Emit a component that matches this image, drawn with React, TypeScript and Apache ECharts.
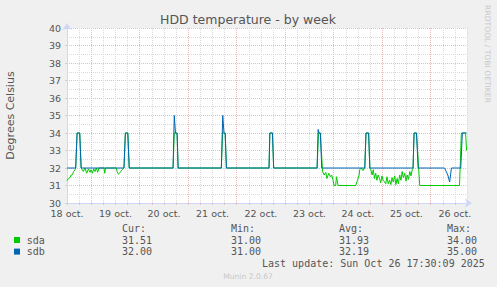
import React, { useEffect, useRef } from "react";
import * as echarts from "echarts";

// x values are hours since 18 oct 00:00
const X_MIN = 12;
const X_MAX = 210;
const dayLabels = ["18 oct.", "19 oct.", "20 oct.", "21 oct.", "22 oct.", "23 oct.", "24 oct.", "25 oct.", "26 oct."];

const sda: [number, number][] = [
  [12.0, 31.28], [12.7, 31.4], [13.5, 31.45], [14.0, 31.6], [14.7, 31.62], [15.3, 31.8], [16.0, 31.9], [16.3, 32], [17.0, 34], [18.3, 34], [19.0, 32],
  [20.1, 31.8], [20.9, 32], [21.75, 31.7], [22.6, 31.95], [23.4, 31.75], [23.9, 31.9], [24.6, 31.7], [25.2, 31.95], [25.9, 31.8], [26.5, 32], [27.2, 31.75], [27.8, 32],
  [30.3, 32], [30.7, 31.7], [31.1, 32],
  [36.4, 32], [36.8, 31.8], [37.4, 31.65], [38.0, 31.7], [38.6, 31.8], [39.2, 31.9], [40.2, 32], [40.9, 34], [42.1, 34], [42.8, 32],
  [64.5, 32], [65.1, 34], [66.5, 34], [67.0, 32],
  [88.4, 32], [89.0, 34], [90.3, 34], [90.9, 32],
  [112.0, 32], [112.4, 34], [113.7, 34], [114.3, 32],
  [135.8, 32], [136.5, 34], [137.4, 34], [138.5, 31.8], [139.3, 31.6], [140.1, 31.75], [140.7, 31.4], [141.55, 31.7], [142.4, 31.5], [143.0, 31.6], [143.7, 31.3], [144.2, 31.0], [145.0, 31.0], [145.4, 31.5], [146.2, 31.0],
  [154.9, 31.0], [155.8, 31.3], [156.6, 31.6], [156.9, 31.9], [157.7, 32], [158.5, 31.85], [159.0, 31.95], [159.4, 32], [160.0, 34], [161.3, 34], [161.9, 32],
  [162.4, 31.9], [163.0, 31.6], [163.6, 31.9], [164.2, 31.4], [164.8, 31.7], [165.4, 31.3], [166.0, 31.6], [166.7, 31.4], [167.3, 31.15], [167.9, 31.55], [168.5, 31.3], [169.2, 31.2],
  [169.8, 31.1], [170.4, 31.5], [171.0, 31.1], [171.7, 31.3], [172.3, 31.05], [172.9, 31.45], [173.5, 31.2], [174.2, 31.55], [174.8, 31.05], [175.4, 31.4], [176.0, 31.1], [176.7, 31.6],
  [177.3, 31.3], [177.9, 31.8], [178.5, 31.45], [179.2, 31.7], [179.8, 31.25], [180.4, 31.6], [181.0, 31.35], [181.7, 31.8], [182.3, 31.55], [182.9, 31.9],
  [183.3, 32], [183.8, 34], [185.0, 34], [186.6, 31], [206.3, 31], [207.2, 34], [209.3, 34], [209.8, 33],
];

const sdb: [number, number][] = [
  [12, 32], [16.3, 32], [17.0, 34], [18.3, 34], [19.0, 32],
  [40.2, 32], [40.9, 34], [42.1, 34], [42.8, 32],
  [64.5, 32], [65.1, 35], [65.7, 34], [66.5, 34], [67.0, 32],
  [88.4, 32], [89.1, 35], [89.7, 34], [90.3, 34], [90.9, 32],
  [112.0, 32], [112.4, 34], [113.7, 34], [114.3, 32],
  [135.8, 32], [136.3, 34.2], [136.8, 34.0], [137.4, 34], [138.1, 32],
  [159.4, 32], [160.0, 34], [161.3, 34], [161.9, 32],
  [183.3, 32], [183.8, 34], [185.0, 34], [185.8, 32],
  [198.9, 32], [200.5, 31.6], [201.4, 31.2], [202.3, 32],
  [206.9, 32], [207.7, 34], [209.8, 34],
];

const seriesNames = ["sda", "sdb"];
const seriesColors = ["#00cc00", "#0066b3"];
const curValues = ["31.51", "32.00"];
const minValues = ["31.00", "31.00"];
const avgValues = ["31.93", "32.19"];
const maxValues = ["34.00", "35.00"];
const statHeaders = ["Cur:", "Min:", "Avg:", "Max:"];
const lastUpdate = "Last update: Sun Oct 26 17:30:09 2025";

const GRID_GREY = "#dadada";
const GRID_RED = "#f0b8b8";
const AXIS_COLOR = "#cfd6f8";
const FONT_COLOR = "#555555";

function txt(text: string, x: number, y: number, font: string, fill: string, align = "left", rotation = 0) {
  return {
    type: "text",
    x,
    y,
    rotation,
    silent: true,
    style: { text, font, fill, align, verticalAlign: "middle", textAlign: align, textVerticalAlign: "middle" },
  };
}

export default function App() {
  const ref = useRef<HTMLDivElement>(null);
  useEffect(() => {
    if (!ref.current) return;
    const chart = echarts.init(ref.current, undefined, { renderer: "svg" });
    const mono = "10px 'DejaVu Sans Mono', monospace";
    const statX = [122, 231, 339, 447];
    const graphics: any[] = [
      txt("HDD temperature - by week", 248, 19, "12.5px 'DejaVu Sans'", FONT_COLOR, "center"),
      txt("Degrees Celsius", 10.5, 115.5, "11px 'DejaVu Sans'", FONT_COLOR, "center", Math.PI / 2),
      txt("RRDTOOL / TOBI OETIKER", 487.5, 54, "7.6px 'DejaVu Sans'", "#c8c8c8", "center", -Math.PI / 2),
      txt("Munin 2.0.67", 248, 276.4, "7.6px 'DejaVu Sans'", "#c8c8c8", "center"),
      txt(lastUpdate, 262, 263.2, mono, FONT_COLOR),
    ];
    statHeaders.forEach((h, i) => graphics.push(txt(h, statX[i], 228, mono, FONT_COLOR)));
    const rowsY = [240, 251.6];
    seriesNames.forEach((n, r) => {
      graphics.push({
        type: "rect",
        shape: { x: 14, y: rowsY[r] - 3, width: 6, height: 6 },
        style: { fill: seriesColors[r] },
        silent: true,
      });
      graphics.push(txt(n, 26.7, rowsY[r], mono, FONT_COLOR));
      [curValues, minValues, avgValues, maxValues].forEach((vals, i) =>
        graphics.push(txt(vals[r], statX[i], rowsY[r], mono, FONT_COLOR))
      );
    });

    chart.setOption({
      animation: false,
      backgroundColor: "#f0f0f0",
      grid: { left: 67, top: 28, width: 400, height: 175, show: true, backgroundColor: "#ffffff", borderWidth: 0 },
      xAxis: {
        type: "value",
        min: X_MIN,
        max: X_MAX,
        interval: 6,
        axisLine: {
          show: true,
          lineStyle: { color: AXIS_COLOR, width: 1 },
          symbol: ["none", "arrow"],
          symbolSize: [7, 7],
          symbolOffset: [0, 5],
        },
        axisTick: { show: true, length: 2, lineStyle: { color: "#e0c4c4" } },
        axisLabel: {
          margin: 5,
          color: FONT_COLOR,
          fontFamily: "DejaVu Sans",
          fontSize: 9.5,
          showMinLabel: true,
          showMaxLabel: true,
          formatter: (v: number) => {
            const k = (v - 12) / 24;
            return Number.isInteger(k) && dayLabels[k] ? dayLabels[k] : "";
          },
        },
        splitLine: {
          show: true,
          lineStyle: { color: [GRID_GREY, GRID_GREY, GRID_RED, GRID_GREY], type: [1, 1], width: 1 },
        },
      },
      yAxis: {
        type: "value",
        min: 30,
        max: 40,
        interval: 1,
        axisLine: {
          show: true,
          lineStyle: { color: AXIS_COLOR, width: 1 },
          symbol: ["none", "arrow"],
          symbolSize: [7, 7],
          symbolOffset: [0, 5],
        },
        axisTick: { show: true, length: 2, lineStyle: { color: "#d0d0d0" } },
        axisLabel: { margin: 6, color: FONT_COLOR, fontFamily: "DejaVu Sans", fontSize: 9.5 },
        splitLine: { show: true, lineStyle: { color: GRID_RED, type: [1, 1], width: 1 } },
        minorTick: { show: false, splitNumber: 2 },
        minorSplitLine: { show: true, lineStyle: { color: GRID_GREY, type: [1, 1], width: 1 } },
      },
      series: [
        {
          name: "sda",
          type: "line",
          data: sda,
          showSymbol: false,
          symbol: "none",
          lineStyle: { color: seriesColors[0], width: 1 },
          z: 3,
        },
        {
          name: "sdb",
          type: "line",
          data: sdb,
          showSymbol: false,
          symbol: "none",
          lineStyle: { color: seriesColors[1], width: 1 },
          z: 4,
        },
      ],
      graphic: graphics,
    });
    return () => chart.dispose();
  }, []);
  return <div ref={ref} style={{ position: "fixed", left: 0, top: 0, width: 497, height: 287 }} />;
}
